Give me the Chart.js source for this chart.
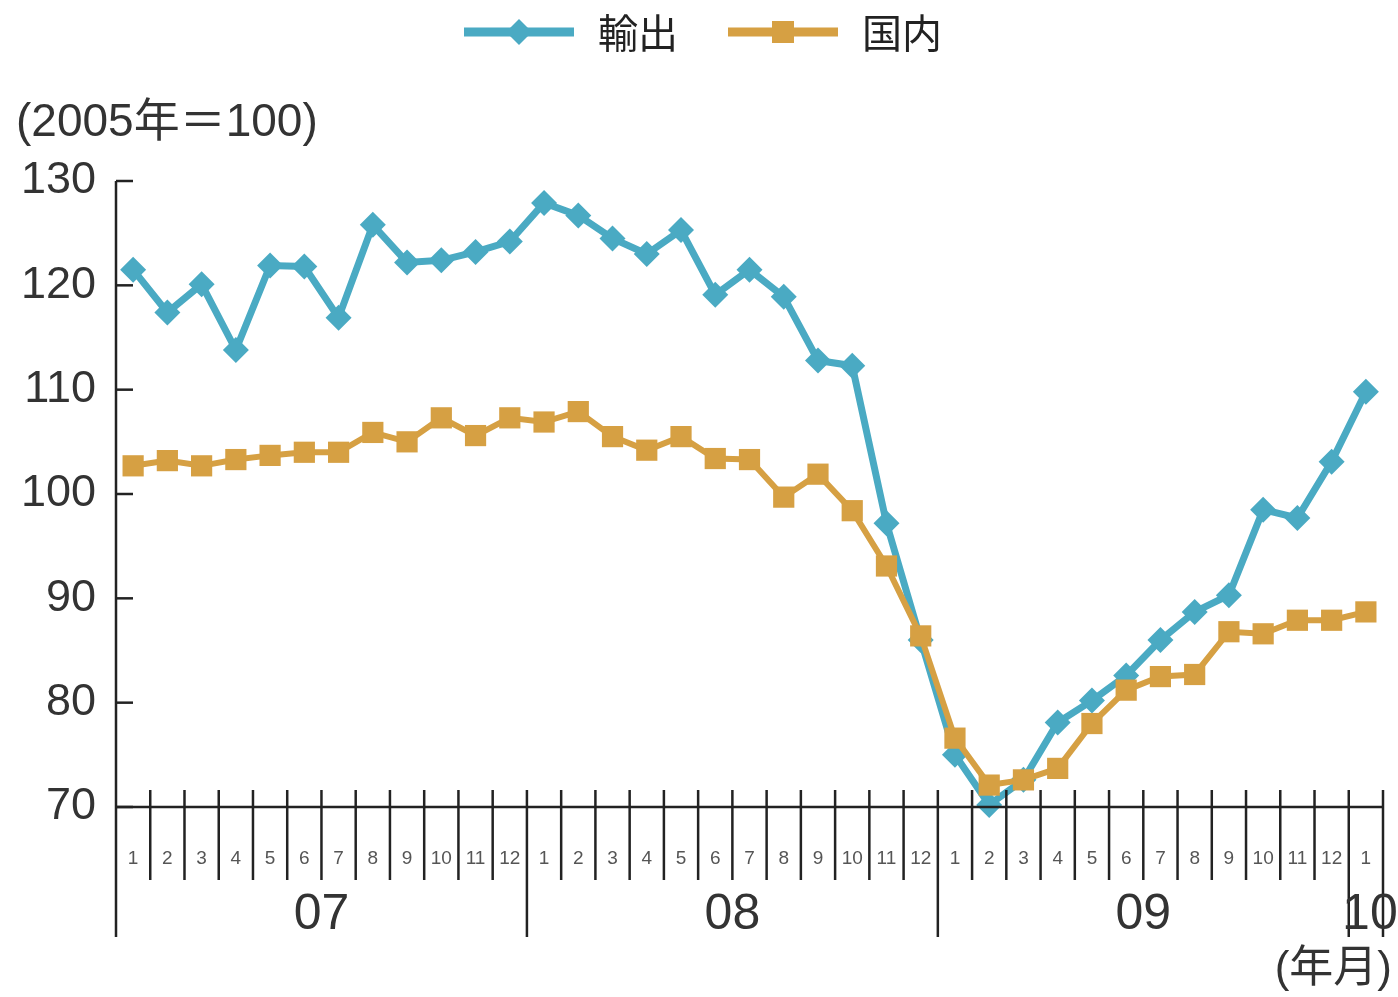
<!DOCTYPE html>
<html lang="ja">
<head>
<meta charset="UTF-8">
<title>輸出・国内</title>
<script src="https://cdn.jsdelivr.net/npm/chart.js@4.4.1/dist/chart.umd.min.js"></script>
<style>
  html, body { margin: 0; padding: 0; background: #fff; }
  #wrap { width: 1398px; height: 997px; }
</style>
</head>
<body>
<div id="wrap"><canvas id="chart" width="1398" height="997"></canvas></div>
<script>
// monthly index, Jan 2007 .. Jan 2010 (2005 = 100)
const months = [1, 2, 3, 4, 5, 6, 7, 8, 9, 10, 11, 12,
                1, 2, 3, 4, 5, 6, 7, 8, 9, 10, 11, 12,
                1, 2, 3, 4, 5, 6, 7, 8, 9, 10, 11, 12,
                1];
const years = ['07', '08', '09', '10'];

const exportValues = [121.5, 117.4, 120.1, 113.8, 121.9, 121.8, 116.9, 125.8, 122.2, 122.4, 123.2, 124.2,
                      127.9, 126.7, 124.5, 123.0, 125.3, 119.1, 121.5, 118.9, 112.8, 112.3, 97.2, 86.0,
                      75.0, 70.2, 72.6, 78.1, 80.2, 82.6, 86.0, 88.7, 90.3, 98.5, 97.7, 103.1,
                      109.8];
const domesticValues = [102.7, 103.2, 102.7, 103.3, 103.7, 104.0, 104.0, 105.9, 105.0, 107.3, 105.6, 107.3,
                        106.9, 107.9, 105.5, 104.2, 105.5, 103.4, 103.3, 99.7, 101.9, 98.4, 93.1, 86.4,
                        76.6, 72.1, 72.6, 73.7, 78.0, 81.2, 82.5, 82.7, 86.8, 86.6, 87.9, 87.9,
                        88.7];
const yTicks = [70, 80, 90, 100, 110, 120, 130];

const seriesNames = ['輸出', '国内'];
const BLUE = '#4aaac3';
const ORANGE = '#d6a043';
const INK = '#222';
const FONT = '"Liberation Sans", "Noto Sans CJK JP", sans-serif';
const CJK = '"Noto Sans CJK JP", "Liberation Sans", sans-serif';

Chart.defaults.font.family = FONT;

// axis lines, inward y ticks, month/year separators, year labels, legend and units
const decorations = {
  id: 'decorations',
  afterDraw(chart) {
    const { ctx, chartArea: a, scales: { x, y } } = chart;
    const step = x.getPixelForValue(1) - x.getPixelForValue(0);
    const longBottom = a.bottom + 130;
    const shortBottom = a.bottom + 73;

    const line = (x1, y1, x2, y2) => {
      ctx.beginPath();
      ctx.moveTo(x1, y1);
      ctx.lineTo(x2, y2);
      ctx.stroke();
    };

    ctx.save();
    ctx.strokeStyle = INK;
    ctx.lineWidth = 2.5;

    // x axis
    line(a.left, a.bottom, a.right, a.bottom);
    // y axis
    line(a.left, a.top, a.left, longBottom);
    yTicks.forEach((v) => {
      const py = y.getPixelForValue(v);
      line(a.left, py, a.left + 17, py);
    });

    // month separators (long ones at the start of each year)
    for (let i = 1; i <= months.length; i++) {
      const bx = x.getPixelForValue(i) - step / 2;
      const yearStart = i === months.length || months[i] === 1;
      line(bx, a.bottom - 17, bx, yearStart ? longBottom : shortBottom);
    }

    // year labels centred under their months
    ctx.fillStyle = '#333';
    ctx.font = '50px ' + FONT;
    ctx.textAlign = 'center';
    ctx.textBaseline = 'middle';
    let start = 0;
    years.forEach((label) => {
      let end = start;
      while (end + 1 < months.length && months[end + 1] !== 1) end++;
      const cx = (x.getPixelForValue(start) + x.getPixelForValue(end)) / 2;
      ctx.fillText(label, cx + (start === end ? 4 : 0), a.bottom + 108);
      start = end + 1;
    });

    // unit labels
    ctx.font = '46px ' + FONT;
    ctx.textAlign = 'left';
    ctx.fillText('(2005年＝100)', 16, a.top - 58);
    ctx.font = '44px ' + FONT;
    ctx.textAlign = 'right';
    ctx.fillText('(年月)', 1392, a.bottom + 163);

    // legend
    const ds = chart.data.datasets;
    const lineLen = 110, gapText = 24, gapItem = 50, legendY = 32;
    ctx.font = '40px ' + CJK;
    const widths = ds.map((d) => lineLen + gapText + ctx.measureText(d.label).width);
    const total = widths.reduce((s, w) => s + w, 0) + gapItem * (ds.length - 1);
    let lx = chart.width / 2 - total / 2 + 4;
    ds.forEach((d, i) => {
      ctx.strokeStyle = d.borderColor;
      ctx.lineWidth = 9;
      line(lx, legendY, lx + lineLen, legendY);
      ctx.fillStyle = d.pointBackgroundColor;
      const cx = lx + lineLen / 2;
      ctx.beginPath();
      if (d.pointStyle === 'rectRot') {
        ctx.moveTo(cx, legendY - 13);
        ctx.lineTo(cx + 13, legendY);
        ctx.lineTo(cx, legendY + 13);
        ctx.lineTo(cx - 13, legendY);
        ctx.closePath();
      } else {
        ctx.rect(cx - 11, legendY - 11, 22, 22);
      }
      ctx.fill();
      ctx.fillStyle = INK;
      ctx.textAlign = 'left';
      ctx.fillText(d.label, lx + lineLen + gapText, legendY + 1);
      lx += widths[i] + gapItem;
    });

    ctx.restore();
  }
};

new Chart(document.getElementById('chart'), {
  type: 'line',
  data: {
    labels: months,
    datasets: [
      {
        label: seriesNames[0],
        data: exportValues,
        borderColor: BLUE,
        backgroundColor: BLUE,
        pointBackgroundColor: BLUE,
        pointBorderColor: BLUE,
        borderWidth: 7,
        pointStyle: 'rectRot',
        pointRadius: 13,
        pointBorderWidth: 0,
        tension: 0,
        clip: false,
        order: 2
      },
      {
        label: seriesNames[1],
        data: domesticValues,
        borderColor: ORANGE,
        backgroundColor: ORANGE,
        pointBackgroundColor: ORANGE,
        pointBorderColor: ORANGE,
        borderWidth: 6,
        pointStyle: 'rect',
        pointRadius: 15,
        pointBorderWidth: 0,
        tension: 0,
        clip: false,
        order: 1
      }
    ]
  },
  options: {
    responsive: false,
    animation: false,
    devicePixelRatio: 1,
    layout: { padding: { top: 181, right: 13, left: 0, bottom: 0 } },
    plugins: {
      legend: { display: false },
      tooltip: { enabled: false }
    },
    scales: {
      x: {
        type: 'category',
        offset: true,
        grid: { display: false, drawTicks: false },
        border: { display: false },
        ticks: {
          autoSkip: false,
          maxRotation: 0,
          padding: 40,
          color: '#555',
          font: { size: 19 }
        },
        afterFit(s) { s.height = 190; s.paddingLeft = 0; s.paddingRight = 0; }
      },
      y: {
        min: 70,
        max: 130,
        grid: { display: false, drawTicks: false },
        border: { display: false },
        ticks: {
          stepSize: 10,
          padding: 20,
          color: '#333',
          font: { size: 45 }
        },
        afterFit(s) { s.width = 116; s.paddingTop = 0; s.paddingBottom = 0; }
      }
    }
  },
  plugins: [decorations]
});
</script>
</body>
</html>
